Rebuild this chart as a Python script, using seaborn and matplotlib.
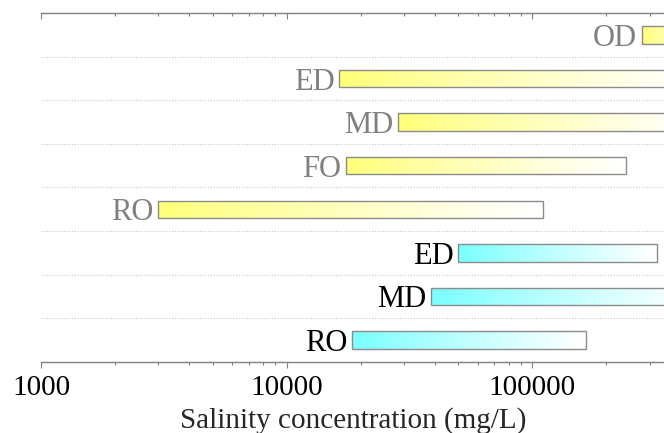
import matplotlib
matplotlib.use("Agg")
import numpy as np
import matplotlib.pyplot as plt
from matplotlib.colors import LinearSegmentedColormap
from matplotlib.ticker import FuncFormatter, NullFormatter
import seaborn as sns

# rows from top to bottom
labels = ["OD", "ED", "MD", "FO", "RO", "ED", "MD", "RO"]
groups = ["thermal", "thermal", "thermal", "thermal", "thermal", "other", "other", "other"]
low = [280000, 16400, 28500, 17400, 3000, 50000, 38600, 18500]
high = [520000, 460000, 460000, 240000, 110000, 323000, 460000, 165000]
ticks = [1000, 10000, 100000]

start_color = {"thermal": "#ffff78", "other": "#78ffff"}
text_color = {"thermal": "#808080", "other": "black"}

sns.set_theme(style="white")
plt.rcParams["font.family"] = ["Liberation Serif", "DejaVu Serif"]

fig = plt.figure(figsize=(6.64, 4.33), dpi=100)
ax = fig.add_axes([41 / 664, 71.3 / 433, 625 / 664, 348.4 / 433])
ax.set_xscale("log")

h = 0.40
for i, (lab, g, lo, hi) in enumerate(zip(labels, groups, low, high)):
    cmap = LinearSegmentedColormap.from_list(g, [start_color[g], "white"])
    xs = np.geomspace(lo, hi, 150)
    c = np.linspace(0, 1, len(xs) - 1).reshape(1, -1) ** 0.9
    ax.pcolormesh(xs, [i - h / 2, i + h / 2], c, cmap=cmap, vmin=0, vmax=1,
                  shading="flat")
    ax.barh(i, hi - lo, left=lo, height=h, fill=False, edgecolor="#8c8c8c", linewidth=1.0)
    ax.annotate(lab, xy=(lo, i), xytext=(-3.5, 0), textcoords="offset points",
                ha="right", va="center_baseline", fontsize=22, color=text_color[g])

ax.set_xlim(1000, 350000)
ax.set_ylim(7.5, -0.5)

# dotted separators between rows
ax.set_yticks(np.arange(0.5, 7.0, 1.0), minor=True)
ax.set_yticks([])
ax.grid(which="minor", axis="y", linestyle=(0, (1, 1.5)), color="#c8c8c8", linewidth=0.8)
ax.tick_params(axis="y", which="both", left=False, labelleft=False)

ax.set_xticks(ticks)
ax.xaxis.set_major_formatter(FuncFormatter(lambda v, _: f"{int(v)}"))
ax.xaxis.set_minor_formatter(NullFormatter())
ax.tick_params(axis="x", which="major", direction="out", length=4.2, width=0.8,
               color="#808080", labelsize=21, labelcolor="black", pad=5.5)
ax.tick_params(axis="x", which="minor", direction="out", length=1.8, width=0.8, color="#808080")
ax.set_xlabel("Salinity concentration (mg/L)", fontsize=21, labelpad=4.5)

for s in ["left", "right"]:
    ax.spines[s].set_visible(False)
for s in ["top", "bottom"]:
    ax.spines[s].set_color("#808080")
    ax.spines[s].set_linewidth(1.0)

# ticks on the top spine pointing down
ax2 = ax.twiny()
ax2.set_xscale("log")
ax2.set_xlim(ax.get_xlim())
ax2.set_xticks(ticks)
ax2.xaxis.set_minor_formatter(NullFormatter())
ax2.tick_params(axis="x", which="major", direction="in", length=4.2, width=0.8,
                color="#808080", labeltop=False)
ax2.tick_params(axis="x", which="minor", direction="in", length=1.8, width=0.8, color="#808080")
for s in ax2.spines.values():
    s.set_visible(False)
ax2.grid(False)

fig.savefig("out.png", dpi=100)
